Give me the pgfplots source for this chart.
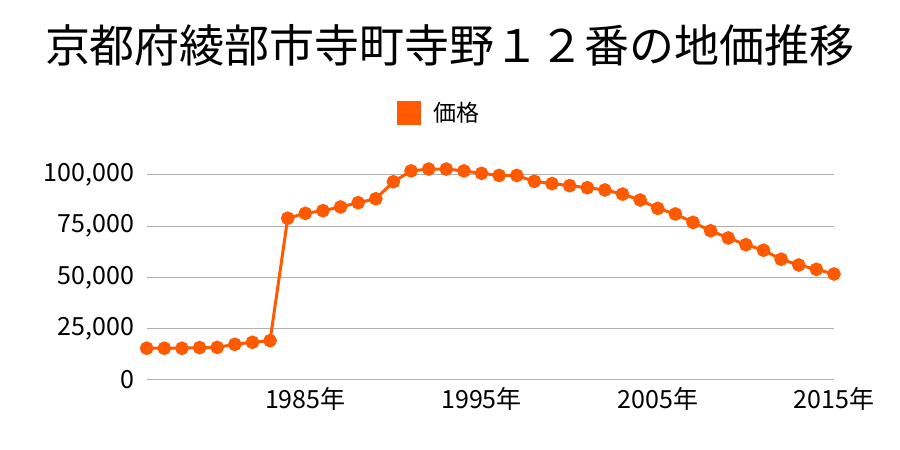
\documentclass[border=0pt]{standalone}
\usepackage{fontspec}
\setmainfont{Noto Sans CJK JP}
\usepackage{pgfplots}
\pgfplotsset{compat=1.18}
\definecolor{lineor}{HTML}{FF5A00}
\definecolor{gridc}{HTML}{B0B0B0}
\begin{document}
\begin{tikzpicture}[x=1pt,y=1pt]
\useasboundingbox (0,0) rectangle (900,450);
\node[anchor=center,font=\fontsize{45}{54}\selectfont] at (450,405) {京都府綾部市寺町寺野１２番の地価推移};
\begin{axis}[
  at={(146.7pt,70pt)}, anchor=south west,
  scale only axis, width=687.3pt, height=225.5pt,
  xmin=1976, xmax=2015, ymin=0, ymax=110000,
  axis line style={draw=none},
  ytick={0,25000,50000,75000,100000},
  yticklabels={0,{25,000},{50,000},{75,000},{100,000}},
  xtick={1985,1995,2005,2015},
  xticklabels={1985年,1995年,2005年,2015年},
  ymajorgrids, grid style={gridc, line width=1pt},
  major tick length=0pt,
  scaled y ticks=false,
  yticklabel style={font=\fontsize{25}{30}\selectfont, xshift=-9pt},
  xticklabel style={font=\fontsize{25}{30}\selectfont, yshift=-4pt},
  clip=false,
  legend style={at={(0.364,1.184)}, anchor=west, draw=none, fill=none, inner sep=0pt,
    nodes={font=\fontsize{23}{28}\selectfont}},
]
\addplot[lineor, line width=3pt, mark=*, mark size=5.3pt, mark options={lineor},
  legend image code/.code={\fill[lineor] (0pt,-10.5pt) rectangle (21pt,10.5pt); \path (31pt,0pt);}]
coordinates {
(1976,15500)(1977,15500)(1978,15500)(1979,15800)(1980,15900)(1981,17400)(1982,18400)(1983,19200)
(1984,78900)(1985,81300)(1986,82600)(1987,84400)(1988,86500)(1989,88400)(1990,96700)(1991,102000)
(1992,102900)(1993,102900)(1994,102000)(1995,100800)(1996,99800)(1997,99800)(1998,96900)(1999,95800)
(2000,94800)(2001,93800)(2002,92700)(2003,90700)(2004,87800)(2005,83700)(2006,81000)(2007,76900)
(2008,72800)(2009,69300)(2010,66000)(2011,63300)(2012,58900)(2013,56100)(2014,54000)(2015,51700)
};
\addlegendentry{価格}
\end{axis}
\end{tikzpicture}
\end{document}
